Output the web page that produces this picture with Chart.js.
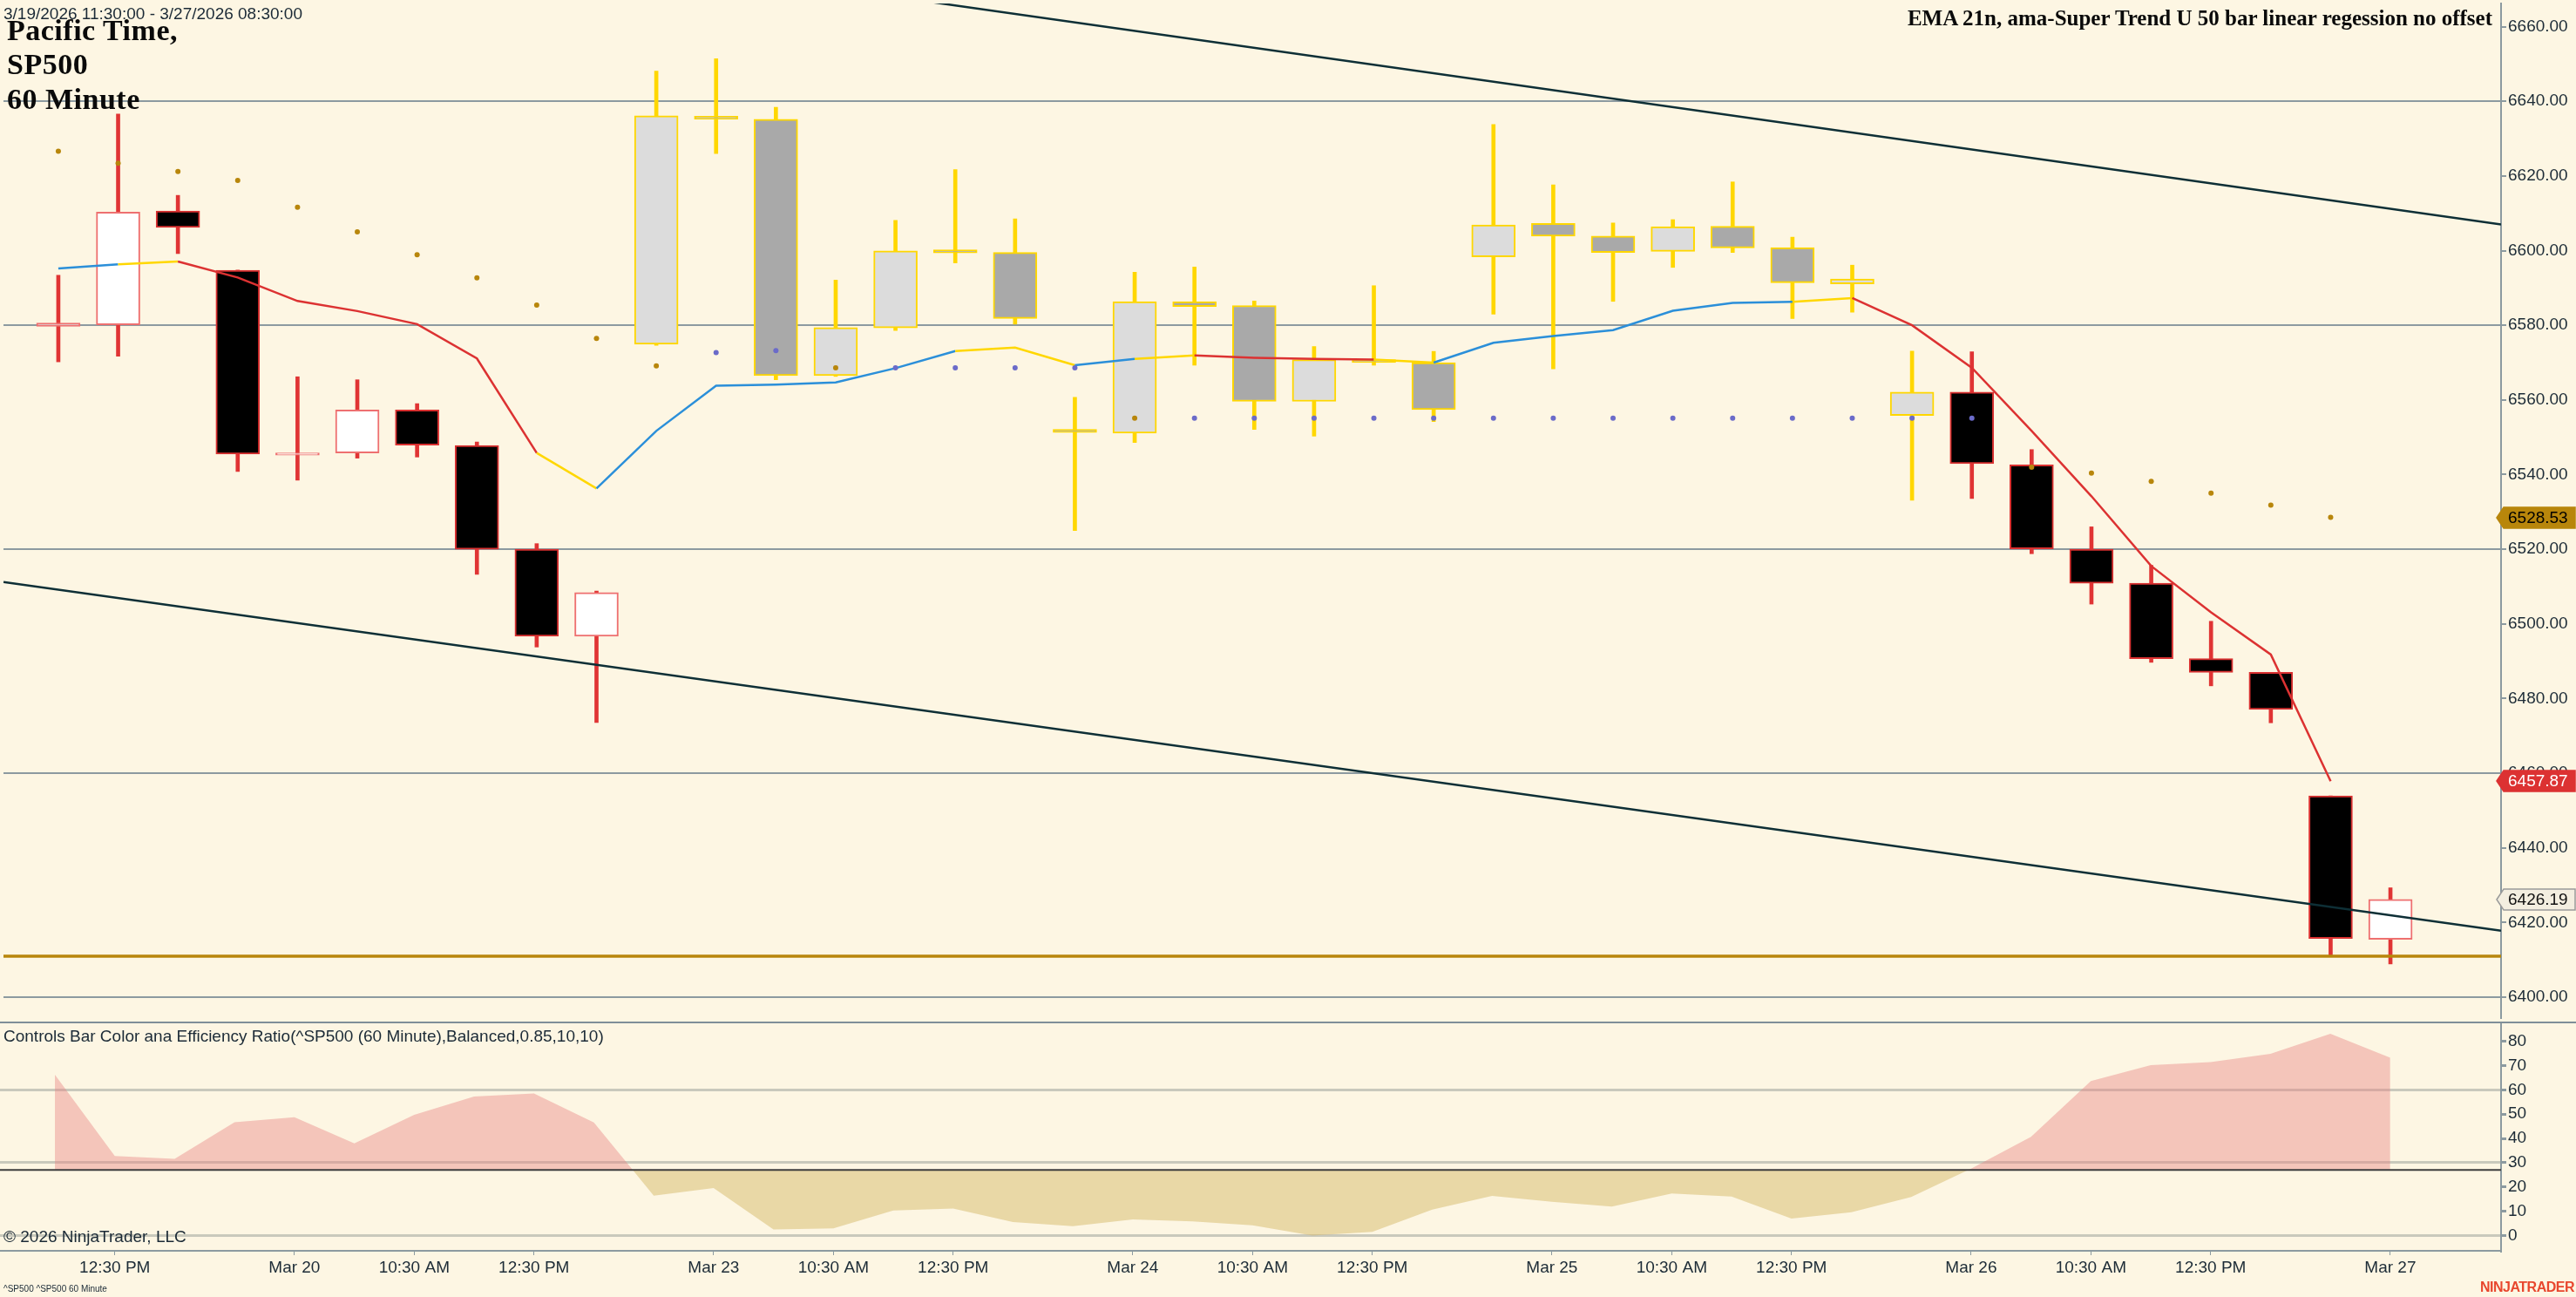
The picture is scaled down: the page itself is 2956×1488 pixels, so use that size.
<!DOCTYPE html>
<html>
<head>
<meta charset="utf-8">
<script src="https://cdn.jsdelivr.net/npm/chart.js@4.4.1/dist/chart.umd.min.js"></script>
<style>
  html, body { margin: 0; padding: 0; background: #FDF6E3; }
  body { width: 2956px; height: 1488px; position: relative; overflow: hidden; font-family: "Liberation Sans", Arial, sans-serif; }
  canvas { position: absolute; left: 0; }
  #price { top: 0; }
  #er { top: 1172px; }
  .txt { position: absolute; white-space: nowrap; color: #1b2a36; }
  .serif { font-family: "Liberation Serif", "Times New Roman", serif; font-weight: bold; color: #0a0a0a; }
  .head { font-size: 34px; line-height: 34px; letter-spacing: 0.5px; left: 8px; }
</style>
</head>
<body>
<canvas id="price" width="2956" height="1172"></canvas>
<canvas id="er" width="2956" height="316"></canvas>

<div class="txt" style="left:4px;top:6px;font-size:19px;line-height:19px">3/19/2026 11:30:00 - 3/27/2026 08:30:00</div>
<div class="txt serif head" style="top:18px">Pacific Time,</div>
<div class="txt serif head" style="top:57px">SP500</div>
<div class="txt serif head" style="top:97px">60 Minute</div>
<div class="txt serif" style="right:96px;top:8px;font-size:25px;line-height:25px">EMA 21n, ama-Super Trend U 50 bar linear regession no offset</div>
<div class="txt" style="left:4px;top:1179px;font-size:19px;line-height:19px">Controls Bar Color ana Efficiency Ratio(^SP500 (60 Minute),Balanced,0.85,10,10)</div>
<div class="txt" style="left:4px;top:1409px;font-size:19px;line-height:19px">© 2026 NinjaTrader, LLC</div>
<div class="txt" style="left:4px;top:1474px;font-size:10px;line-height:10px">^SP500 ^SP500 60 Minute</div>
<div class="txt" style="right:2px;top:1469px;font-size:16px;line-height:16px;font-weight:bold;color:#E8472E;letter-spacing:-0.5px">NINJATRADER</div>

<script>
// hourly bars, 3/19 11:30 .. 3/27 08:30 (pacific)
opens  = [6579.7, 6580.1, 6610.6, 6594.7, 6545.2, 6545.8, 6557.3, 6547.8, 6520.0, 6496.7,
          6574.9, 6636.0, 6635.2, 6566.5, 6579.3, 6600.2, 6599.5, 6552.1, 6551.1, 6586.3,
          6585.3, 6559.6, 6570.8, 6570.0, 6598.3, 6607.3, 6603.9, 6599.8, 6606.5, 6600.8,
          6591.1, 6555.8, 6562.1, 6542.6, 6520.0, 6510.9, 6490.7, 6487.0, 6453.9, 6415.5]
highs  = [6593.4, 6636.6, 6614.8, 6594.8, 6566.2, 6565.4, 6559.0, 6548.7, 6521.5, 6508.8,
          6648.1, 6651.4, 6638.4, 6592.1, 6608.1, 6621.7, 6608.5, 6560.7, 6594.2, 6595.6,
          6586.5, 6574.3, 6590.6, 6573.0, 6633.8, 6617.6, 6607.4, 6608.3, 6618.4, 6603.6,
          6596.1, 6573.1, 6572.9, 6546.7, 6526.0, 6515.7, 6500.7, 6487.0, 6453.9, 6429.3]
lows   = [6570.2, 6571.7, 6599.2, 6540.8, 6538.5, 6544.4, 6544.7, 6513.3, 6493.8, 6473.6,
          6574.6, 6626.0, 6565.4, 6566.3, 6578.6, 6596.7, 6580.3, 6525.0, 6548.6, 6569.3,
          6552.1, 6550.3, 6569.3, 6554.2, 6583.0, 6568.3, 6586.4, 6595.5, 6599.5, 6581.8,
          6583.5, 6533.1, 6533.6, 6518.8, 6505.3, 6489.7, 6483.4, 6473.5, 6411.0, 6408.9]
closes = [6580.6, 6610.3, 6606.2, 6545.5, 6545.8, 6557.3, 6547.9, 6520.0, 6496.7, 6508.4,
          6636.1, 6635.2, 6566.5, 6579.4, 6599.9, 6599.4, 6581.8, 6551.3, 6586.3, 6585.0,
          6559.6, 6570.8, 6570.0, 6557.4, 6606.9, 6603.9, 6599.5, 6606.4, 6600.7, 6591.4,
          6592.4, 6562.1, 6542.9, 6520.1, 6510.9, 6490.7, 6487.0, 6477.1, 6415.7, 6426.19]

// EMA 21 (last bar not plotted)
ema = [6595.2, 6596.3, 6597.1, 6592.8, 6586.5, 6583.8, 6580.3, 6571.1, 6545.8, 6536.3,
       6551.7, 6563.8, 6564.1, 6564.7, 6568.5, 6573.1, 6574.0, 6569.3, 6571.0, 6571.9,
       6571.3, 6571.0, 6570.8, 6570.0, 6575.3, 6577.1, 6578.7, 6583.9, 6586.0, 6586.3,
       6587.3, 6580.0, 6568.6, 6551.7, 6534.2, 6515.5, 6503.1, 6491.8, 6457.87]

// super trend stop dots
stops = [6626.6, 6623.4, 6621.2, 6618.8, 6611.6, 6605.0, 6598.9, 6592.7, 6585.4, 6576.5,
         6569.1, 6572.7, 6573.2, 6568.6, 6568.6, 6568.6, 6568.6, 6568.6, 6555.1, 6555.1,
         6555.1, 6555.1, 6555.1, 6555.1, 6555.1, 6555.1, 6555.1, 6555.1, 6555.1, 6555.1,
         6555.1, 6555.1, 6555.1, 6542.0, 6540.4, 6538.2, 6535.0, 6531.8, 6528.53]

// regression channel, value at left and right edge of the view
regUpper = [6701.8, 6607.0]
regLower = [6511.2, 6417.8]
levelLine = 6411.0

// efficiency ratio panel
effRatio = [66.2, 32.8, 31.6, 46.7, 48.7, 38.0, 49.7, 57.2, 58.5, 46.6,
            16.5, 19.6, 2.6, 3.0, 10.4, 11.2, 5.6, 3.9, 6.7, 5.9,
            4.3, 0.1, 1.6, 10.7, 16.4, 14.0, 12.0, 17.4, 16.1, 7.1,
            9.7, 15.9, 27.6, 40.7, 63.6, 70.1, 71.4, 74.8, 83.0, 73.2]
erLevel = 27

tickBars   = [1, 4, 6, 8, 11, 13, 15, 18, 20, 22, 25, 27, 29, 32, 34, 36, 39]
tickLabels = ['12:30 PM', 'Mar 20', '10:30 AM', '12:30 PM', 'Mar 23', '10:30 AM', '12:30 PM',
              'Mar 24', '10:30 AM', '12:30 PM', 'Mar 25', '10:30 AM', '12:30 PM',
              'Mar 26', '10:30 AM', '12:30 PM', 'Mar 27']

const XMIN = -0.917, XMAX = 40.85
const AXIS_W = 86
const axisColor = '#8c9aa0'
const labelFont = { family: '"Liberation Sans", Arial, sans-serif', size: 19 }
const labelColor = '#1c2b36'

Chart.defaults.font.family = '"Liberation Sans", Arial, sans-serif'

function isUp(i) { return closes[i] >= opens[i] }
function trending(i) { return effRatio[i] >= erLevel }
function bodyFill(i) {
  if (trending(i)) return isUp(i) ? '#FFFFFF' : '#000000'
  return isUp(i) ? '#DCDCDC' : '#A9A9A9'
}
function bodyEdge(i) {
  if (trending(i)) return isUp(i) ? '#EE7070' : '#D93030'
  return '#FFD700'
}
function wickColor(i) { return trending(i) ? '#E03434' : '#FFD700' }

function emaState(i) {
  const d0 = ema[i] - ema[i - 1]
  const d1 = i + 1 < ema.length ? ema[i + 1] - ema[i] : d0
  if ((d0 > 0) !== (d1 > 0)) return 0
  return d0 > 0 ? 1 : -1
}
function emaColor(i) {
  const s = emaState(i)
  return s > 0 ? '#2B8FD9' : (s < 0 ? '#DC3232' : '#FFD700')
}

const idx = opens.map((_, i) => i)
const edges = v => [{ x: XMIN, y: v[0] }, { x: XMAX, y: v[1] }]

const priceTags = {
  id: 'priceTags',
  afterDraw(chart) {
    const ctx = chart.ctx, y = chart.scales.y, x0 = chart.chartArea.right
    const tags = [
      { v: stops[stops.length - 1], bg: '#B8860B', fg: '#000000', edge: '#B8860B' },
      { v: ema[ema.length - 1], bg: '#DC3232', fg: '#FFFFFF', edge: '#DC3232' },
      { v: closes[closes.length - 1], bg: '#F3EEE0', fg: '#111111', edge: '#9a9a9a' }
    ]
    ctx.save()
    tags.forEach(t => {
      const py = Math.round(y.getPixelForValue(t.v))
      ctx.beginPath()
      ctx.moveTo(x0 - 5, py)
      ctx.lineTo(x0 + 3, py - 12)
      ctx.lineTo(chart.width - 1, py - 12)
      ctx.lineTo(chart.width - 1, py + 12)
      ctx.lineTo(x0 + 3, py + 12)
      ctx.closePath()
      ctx.fillStyle = t.bg
      ctx.fill()
      ctx.strokeStyle = t.edge
      ctx.lineWidth = 1.5
      ctx.stroke()
      ctx.fillStyle = t.fg
      ctx.font = '19px "Liberation Sans", Arial, sans-serif'
      ctx.textBaseline = 'middle'
      ctx.textAlign = 'left'
      ctx.fillText(t.v.toFixed(2), x0 + 8, py + 1)
    })
    ctx.restore()
  }
}

const separator = {
  id: 'separator',
  afterDraw(chart) {
    const ctx = chart.ctx
    ctx.save()
    ctx.strokeStyle = '#7f8f98'
    ctx.lineWidth = 2
    ctx.beginPath()
    ctx.moveTo(0, 1)
    ctx.lineTo(chart.width, 1)
    ctx.stroke()
    ctx.restore()
  }
}

const noPad = s => { s.paddingTop = 0; s.paddingBottom = 0; s.paddingLeft = 0; s.paddingRight = 0 }

new Chart(document.querySelector('#price'), {
  type: 'bar',
  data: {
    datasets: [
      {
        type: 'bar', label: 'wick', order: 10, grouped: false,
        data: idx.map(i => ({ x: i, y: [lows[i], highs[i]] })),
        backgroundColor: ctx => wickColor(ctx.dataIndex),
        borderWidth: 0, barThickness: 4
      },
      {
        type: 'bar', label: 'body', order: 9, grouped: false,
        data: idx.map(i => ({ x: i, y: [opens[i], closes[i]] })),
        backgroundColor: ctx => bodyFill(ctx.dataIndex),
        borderColor: ctx => bodyEdge(ctx.dataIndex),
        borderWidth: 2, borderSkipped: false, barThickness: 50
      },
      {
        type: 'line', label: 'level', order: 5, data: edges([levelLine, levelLine]),
        borderColor: '#B8860B', borderWidth: 3.5, pointRadius: 0
      },
      {
        type: 'line', label: 'upper', order: 4, data: edges(regUpper),
        borderColor: '#0E2F36', borderWidth: 2.5, pointRadius: 0
      },
      {
        type: 'line', label: 'lower', order: 4, data: edges(regLower),
        borderColor: '#0E2F36', borderWidth: 2.5, pointRadius: 0
      },
      {
        type: 'line', label: 'EMA', order: 3,
        data: ema.map((v, i) => ({ x: i, y: v })),
        borderWidth: 2.5, pointRadius: 0,
        segment: { borderColor: ctx => emaColor(ctx.p1DataIndex) }
      },
      {
        type: 'line', label: 'stop', order: 2, showLine: false,
        data: stops.map((v, i) => ({ x: i, y: v })),
        pointRadius: 3, pointBorderWidth: 0,
        pointBackgroundColor: ctx => (ctx.dataIndex === 0 || stops[ctx.dataIndex] < stops[ctx.dataIndex - 1]) ? '#B8860B' : '#6B6BC9'
      }
    ]
  },
  options: {
    responsive: false, animation: false, devicePixelRatio: 1, events: [],
    layout: { padding: 0 },
    plugins: { legend: { display: false }, tooltip: { enabled: false } },
    scales: {
      x: { type: 'linear', min: XMIN, max: XMAX, offset: false, display: false },
      y: {
        position: 'right', min: 6394.4, max: 6666.2,
        afterFit: s => { s.width = AXIS_W; noPad(s) },
        ticks: { stepSize: 20, includeBounds: false, callback: v => v.toFixed(2), font: labelFont, color: labelColor, padding: 2 },
        grid: {
          color: ctx => (ctx.tick && Math.round(ctx.tick.value) % 60 === 40) ? axisColor : 'rgba(0,0,0,0)',
          lineWidth: 2, tickLength: 6, tickColor: axisColor
        },
        border: { display: true, color: axisColor, width: 2 }
      }
    }
  },
  plugins: [priceTags]
})

new Chart(document.querySelector('#er'), {
  type: 'line',
  data: {
    datasets: [
      {
        label: 'ER', order: 2,
        data: effRatio.map((v, i) => ({ x: i, y: v })),
        borderWidth: 0, borderColor: 'rgba(0,0,0,0)', pointRadius: 0,
        fill: { target: { value: erLevel }, above: 'rgba(232,128,128,0.42)', below: 'rgba(214,186,106,0.5)' }
      },
      {
        label: 'level', order: 1, data: edges([erLevel, erLevel]),
        borderColor: '#3d3d3d', borderWidth: 2, pointRadius: 0
      }
    ]
  },
  options: {
    responsive: false, animation: false, devicePixelRatio: 1, events: [],
    layout: { padding: 0 },
    plugins: { legend: { display: false }, tooltip: { enabled: false } },
    scales: {
      x: {
        type: 'linear', min: XMIN, max: XMAX, offset: false,
        afterBuildTicks: s => { s.ticks = tickBars.map(v => ({ value: v })) },
        afterFit: s => { s.height = 53; noPad(s) },
        ticks: { autoSkip: false, maxRotation: 0, callback: (v, i) => tickLabels[i], font: labelFont, color: labelColor, padding: 3 },
        grid: { drawOnChartArea: false, tickLength: 5, tickColor: axisColor },
        border: { display: true, color: axisColor, width: 2 }
      },
      y: {
        position: 'right', min: -6.2, max: 88.06,
        afterFit: s => { s.width = AXIS_W; noPad(s) },
        ticks: { stepSize: 10, includeBounds: false, font: labelFont, color: labelColor, padding: 2 },
        grid: {
          color: ctx => (ctx.tick && ctx.tick.value % 30 === 0) ? 'rgba(150,155,150,0.5)' : 'rgba(0,0,0,0)',
          lineWidth: 3, tickLength: 6, tickColor: axisColor
        },
        border: { display: true, color: axisColor, width: 2 }
      }
    }
  },
  plugins: [separator]
})
</script>
</body>
</html>
